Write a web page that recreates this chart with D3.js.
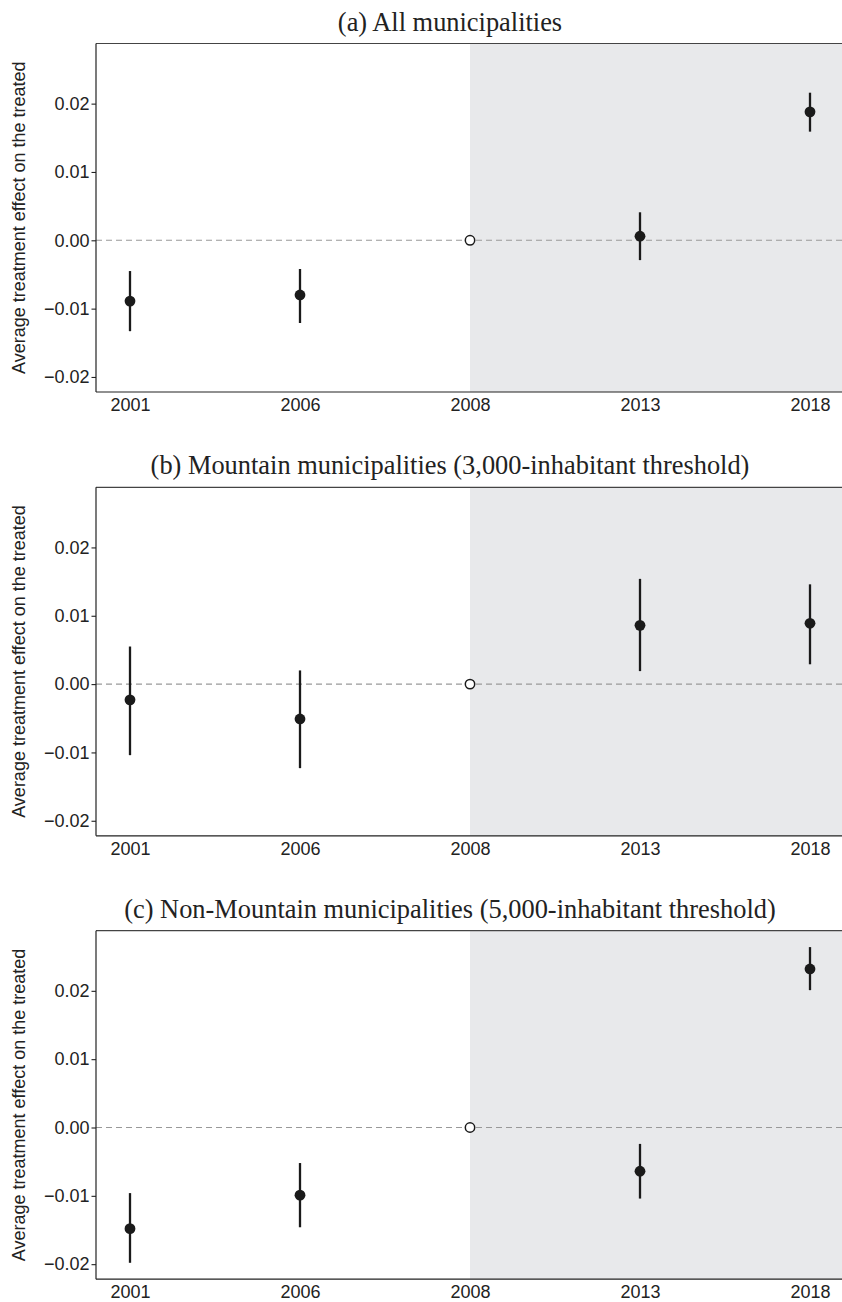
<!DOCTYPE html>
<html><head><meta charset="utf-8">
<script src="https://cdn.jsdelivr.net/npm/d3@7"></script>
<style>body{margin:0;background:#fff}</style>
</head><body>
<script>
const years = ["2001","2006","2008","2013","2018"];
const titles = [
  "(a) All municipalities",
  "(b) Mountain municipalities (3,000-inhabitant threshold)",
  "(c) Non-Mountain municipalities (5,000-inhabitant threshold)"
];
const yTicks = [-0.02, -0.01, 0.00, 0.01, 0.02];
const refYear = "2008";
// estimates per panel (2008 = reference, 0)
const estA = [-0.0089, -0.0080, 0, 0.0006, 0.0188];
const lowA = [-0.0133, -0.0121, null, -0.0029, 0.0159];
const highA = [-0.0045, -0.0042, null, 0.0041, 0.0216];
const estB = [-0.0023, -0.0051, 0, 0.0086, 0.0089];
const lowB = [-0.0104, -0.0123, null, 0.0019, 0.0029];
const highB = [0.0055, 0.0020, null, 0.0154, 0.0146];
const estC = [-0.0148, -0.0099, 0, -0.0064, 0.0232];
const lowC = [-0.0198, -0.0146, null, -0.0104, 0.0201];
const highC = [-0.0096, -0.0052, null, -0.0024, 0.0264];
const panels = [[estA, lowA, highA], [estB, lowB, highB], [estC, lowC, highC]];

const W = 842, H = 1302;
const svg = d3.select("body").append("svg").attr("width", W).attr("height", H);
const left = 96, right = 844;
const tops = [43.5, 487.3, 930.7];
const ph = 348.5;
const x = d3.scalePoint().domain(years).range([left, right]).padding(0.2);
const sans = "Liberation Sans, Arial, sans-serif";

panels.forEach((p, i) => {
  const top = tops[i], bottom = top + ph;
  const y = d3.scaleLinear().domain([-0.0222, 0.0288]).range([bottom, top]);
  const g = svg.append("g");
  // shaded post-period
  g.append("rect").attr("x", x(refYear)).attr("y", top)
    .attr("width", W - x(refYear)).attr("height", ph).attr("fill", "#e8e9eb");
  // zero line
  g.append("line").attr("x1", left).attr("x2", W).attr("y1", y(0)).attr("y2", y(0))
    .attr("stroke", "#999").attr("stroke-width", 1.1).attr("stroke-dasharray", "6,4");
  // top border
  g.append("line").attr("x1", left).attr("x2", W).attr("y1", top).attr("y2", top)
    .attr("stroke", "#444").attr("stroke-width", 1.2);
  // y axis
  const ya = d3.axisLeft(y).tickValues(yTicks).tickFormat(d => d3.format(".2f")(d).replace("-", "\u2212")).tickSize(4.5).tickPadding(2);
  const yg = g.append("g").attr("transform", `translate(${left},0)`).call(ya);
  yg.select(".domain").remove();
  yg.selectAll(".tick line").attr("stroke", "#222").attr("stroke-width", 1.1);
  yg.selectAll("text").attr("font-family", sans).attr("font-size", 18).attr("fill", "#222");
  g.append("line").attr("x1", left).attr("x2", left).attr("y1", top).attr("y2", bottom).attr("stroke", "#222").attr("stroke-width", 1.2);
  // x axis
  const xa = d3.axisBottom(x).tickSize(0).tickPadding(6);
  const xg = g.append("g").attr("transform", `translate(0,${bottom})`).call(xa);
  xg.select(".domain").remove();
  xg.selectAll("text").attr("font-family", sans).attr("font-size", 18).attr("fill", "#222");
  g.append("line").attr("x1", left).attr("x2", W).attr("y1", bottom).attr("y2", bottom).attr("stroke", "#222").attr("stroke-width", 1.2);
  // y title
  g.append("text").attr("transform", `translate(24.5,${(top + bottom) / 2}) rotate(-90)`)
    .attr("text-anchor", "middle").attr("font-family", sans)
    .attr("font-size", 18).attr("fill", "#222").text("Average treatment effect on the treated");
  // title
  g.append("text").attr("x", 450).attr("y", top - 13).attr("text-anchor", "middle")
    .attr("font-family", "Liberation Serif, Times New Roman, serif").attr("font-size", 26.4)
    .attr("fill", "#222").text(titles[i]);
  // error bars and points
  const [est, lo, hi] = p;
  const data = years.map((yr, j) => ({yr, e: est[j], l: lo[j], h: hi[j]}));
  g.selectAll(".eb").data(data.filter(d => d.l !== null)).enter().append("line")
    .attr("x1", d => x(d.yr)).attr("x2", d => x(d.yr))
    .attr("y1", d => y(d.l)).attr("y2", d => y(d.h))
    .attr("stroke", "#1a1a1a").attr("stroke-width", 2.3);
  g.selectAll(".pt").data(data).enter().append("circle")
    .attr("cx", d => x(d.yr)).attr("cy", d => y(d.e))
    .attr("r", d => d.yr === refYear ? 4.7 : 5.4)
    .attr("fill", d => d.yr === refYear ? "#fff" : "#1a1a1a")
    .attr("stroke", "#1a1a1a").attr("stroke-width", d => d.yr === refYear ? 1.5 : 0);
});
</script>
</body></html>
